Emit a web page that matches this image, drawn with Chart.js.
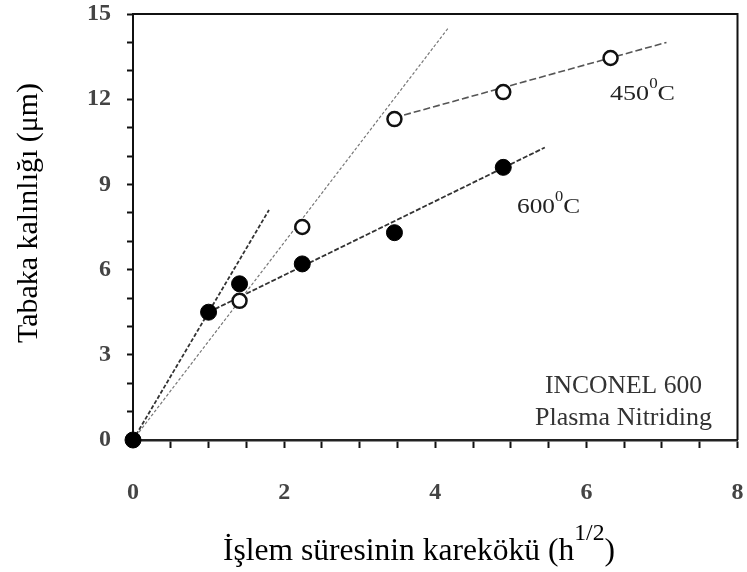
<!DOCTYPE html>
<html>
<head>
<meta charset="utf-8">
<script src="https://cdn.jsdelivr.net/npm/chart.js@4.4.1/dist/chart.umd.min.js"></script>
<style>
  html, body { margin: 0; padding: 0; background: #fff; }
</style>
</head>
<body>
<canvas id="chart" width="747" height="572"></canvas>
<script>
// Measured points: x = square root of time (h^1/2), y = layer thickness (µm)
const x450 = [1.41, 2.24, 3.46, 4.90, 6.32];
const y450 = [4.9, 7.5, 11.3, 12.25, 13.45];
const x600 = [0, 1.0, 1.41, 2.24, 3.46, 4.90];
const y600 = [0, 4.5, 5.5, 6.2, 7.3, 9.6];

// Trend lines drawn on the figure (start and end points)
const fastLineX = [0, 1.8];
const fastLineY = [0, 8.1];
const steepLineX = [0, 4.17];
const steepLineY = [0, 14.5];
const fit450X = [3.46, 7.06];
const fit450Y = [11.35, 14.0];
const fit600X = [1.0, 5.45];
const fit600Y = [4.5, 10.3];

// Labelled ticks
const xTicks = [0, 2, 4, 6, 8];
const yTicks = [0, 3, 6, 9, 12, 15];

const serif = "'Liberation Serif', 'Times New Roman', serif";
const toPoints = (xs, ys) => xs.map((x, i) => ({ x: x, y: ys[i] }));

function trend(xs, ys, dash, color, width) {
    return {
        data: toPoints(xs, ys),
        showLine: true,
        borderColor: color,
        borderWidth: width,
        borderDash: dash,
        pointRadius: 0,
        order: 2
    };
}

// Draw text made of normal and superscript parts, squeezed to a given width
function drawRich(ctx, parts, x, y, size, width, opts) {
    opts = opts || {};
    const supScale = opts.supScale || 0.65;
    const supRise = opts.supRise || size * 0.55;
    ctx.save();
    ctx.fillStyle = opts.color || '#000';
    ctx.textAlign = 'left';
    ctx.textBaseline = 'alphabetic';
    const widths = parts.map(([t, sup]) => {
        ctx.font = (sup ? size * supScale : size) + 'px ' + serif;
        return ctx.measureText(t).width;
    });
    const total = widths.reduce((a, b) => a + b, 0);
    ctx.translate(x, y);
    if (opts.rotate) ctx.rotate(opts.rotate);
    const sx = width ? width / total : 1;
    ctx.scale(sx, 1);
    let cx = opts.center ? -total / 2 : 0;
    parts.forEach(([t, sup], i) => {
        ctx.font = (sup ? size * supScale : size) + 'px ' + serif;
        ctx.fillText(t, cx, sup ? -supRise : 0);
        cx += widths[i];
    });
    ctx.restore();
}

const framePlugin = {
    id: 'frame',
    afterDraw(chart) {
        const { ctx, chartArea: a } = chart;
        ctx.save();
        ctx.strokeStyle = '#111';
        ctx.lineWidth = 2;
        ctx.beginPath();
        ctx.moveTo(a.left, a.top);
        ctx.lineTo(a.right, a.top);
        ctx.lineTo(a.right, a.bottom);
        ctx.stroke();
        ctx.restore();
    }
};

const textPlugin = {
    id: 'texts',
    afterDraw(chart) {
        const ctx = chart.ctx;
        // axis titles
        drawRich(ctx, [['İşlem süresinin karekökü (h', 0], ['1/2', 1], [')', 0]],
            223, 560, 32, 392, { supScale: 0.75, supRise: 20 });
        drawRich(ctx, [['Tabaka kalınlığı (μm)', 0]],
            37, 213, 30, 260, { rotate: -Math.PI / 2, center: true });
        // series labels
        drawRich(ctx, [['450', 0], ['0', 1], ['C', 0]], 610, 100, 22, 65,
            { supScale: 0.65, supRise: 12, color: '#222' });
        drawRich(ctx, [['600', 0], ['0', 1], ['C', 0]], 517, 213, 22, 63,
            { supScale: 0.65, supRise: 12, color: '#222' });
        // material note
        drawRich(ctx, [['INCONEL 600', 0]], 545, 393, 25, 157, { color: '#333' });
        drawRich(ctx, [['Plasma Nitriding', 0]], 535, 425, 25, 177, { color: '#333' });
    }
};

// keep the plot box fixed: labels may hang into the outer margin
function noPad(s) {
    s.paddingTop = 0;
    s.paddingBottom = 0;
    s.paddingLeft = 0;
    s.paddingRight = 0;
}

new Chart(document.getElementById('chart'), {
    type: 'scatter',
    data: {
        datasets: [
            {
                label: '600°C',
                data: toPoints(x600, y600),
                backgroundColor: '#000',
                borderColor: '#000',
                borderWidth: 1,
                pointRadius: 8,
                clip: false,
                order: 0
            },
            {
                label: '450°C',
                data: toPoints(x450, y450),
                backgroundColor: '#fff',
                borderColor: '#111',
                borderWidth: 2.5,
                pointRadius: 7,
                clip: false,
                order: 1
            },
            trend(fastLineX, fastLineY, [4, 2], '#333', 1.8),
            trend(steepLineX, steepLineY, [3, 2], '#777', 1.2),
            trend(fit450X, fit450Y, [7, 3], '#555', 1.6),
            trend(fit600X, fit600Y, [5, 2], '#333', 1.8)
        ]
    },
    options: {
        responsive: false,
        devicePixelRatio: 1,
        animation: false,
        layout: { padding: { top: 14, right: 9, left: 0, bottom: 0 } },
        plugins: {
            legend: { display: false },
            tooltip: { enabled: false }
        },
        scales: {
            x: {
                type: 'linear',
                min: 0,
                max: 8,
                afterFit: s => { s.height = 132; noPad(s); },
                ticks: {
                    stepSize: 0.5,
                    autoSkip: false,
                    maxRotation: 0,
                    padding: 30,
                    color: '#444',
                    font: { family: serif, size: 24, weight: 'bold' },
                    callback: v => xTicks.includes(v) ? v : ''
                },
                grid: { drawOnChartArea: false, color: '#111', tickLength: 8, tickWidth: 2 },
                border: { color: '#222', width: 2.5 }
            },
            y: {
                type: 'linear',
                min: 0,
                max: 15,
                afterFit: s => { s.width = 133; noPad(s); },
                ticks: {
                    stepSize: 1,
                    autoSkip: false,
                    padding: 16,
                    color: '#444',
                    font: { family: serif, size: 24, weight: 'bold' },
                    callback: v => yTicks.includes(v) ? v : ''
                },
                grid: { drawOnChartArea: false, color: '#111', tickLength: 6, tickWidth: 2 },
                border: { color: '#111', width: 2 }
            }
        }
    },
    plugins: [framePlugin, textPlugin]
});
</script>
</body>
</html>
